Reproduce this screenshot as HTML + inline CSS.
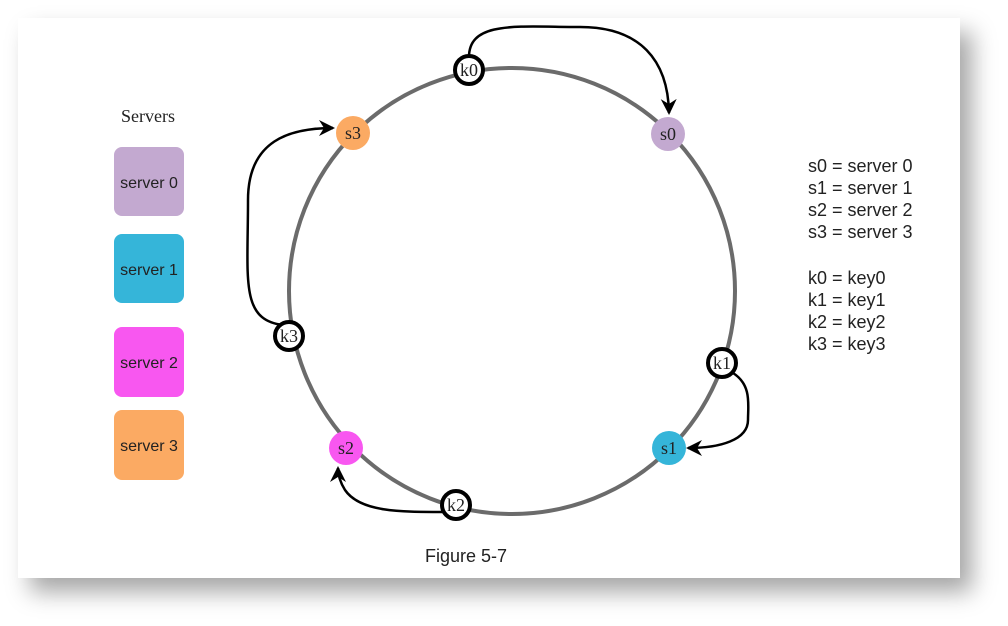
<!DOCTYPE html>
<html><head><meta charset="utf-8"><style>
body{margin:0;width:1008px;height:626px;background:#fff;overflow:hidden;position:relative;font-family:"Liberation Sans",sans-serif}
.card{position:absolute;left:18px;top:18px;width:942px;height:560px;background:#fff;box-shadow:12px 14px 22px rgba(0,0,0,0.35)}
svg{position:absolute;left:0;top:0}
</style></head><body>
<div class="card"></div>
<svg width="1008" height="626" viewBox="0 0 1008 626">
<defs>
<marker id="b" markerWidth="16" markerHeight="16" refX="14" refY="8" orient="auto" markerUnits="userSpaceOnUse"><path d="M0,0 L16,8 L0,16 L5,8 z" fill="#000"/></marker></defs>
<circle cx="512" cy="291" r="223" fill="none" stroke="#6b6b6b" stroke-width="4"/>
<g fill="none" stroke="#000" stroke-width="2.5">
<path d="M469,57 C469,20 520,27 580,27 C640,27 668,60 669,113" marker-end="url(#b)"/>
<path d="M283,325 C240,320 248,280 248,200 C248,140 290,128 333,128" marker-end="url(#b)"/>
<path d="M443,512 C400,512 360,512 345,490 C340,482 338,475 338,468" marker-end="url(#b)"/>
<path d="M733,373 C752,385 748,405 748,420 C748,440 720,448 688,448" marker-end="url(#b)"/>
</g>
<g font-family="Liberation Serif,serif" font-size="18" text-anchor="middle" fill="#222">
<circle cx="668" cy="134" r="17" fill="#c3a9d0"/><text x="668" y="140">s0</text>
<circle cx="353" cy="133" r="17" fill="#fbaa63"/><text x="353" y="139">s3</text>
<circle cx="346" cy="448" r="17" fill="#f857f0"/><text x="346" y="454">s2</text>
<circle cx="669" cy="448" r="17" fill="#35b5d9"/><text x="669" y="454">s1</text>
<g stroke="#000" stroke-width="4" fill="#fff">
<circle cx="469" cy="70" r="14"/><circle cx="289" cy="336" r="14"/><circle cx="456" cy="505" r="14"/><circle cx="722" cy="363" r="14"/></g>
<text x="469" y="76">k0</text><text x="289" y="342">k3</text><text x="456" y="511">k2</text><text x="722" y="369">k1</text>
<text x="148" y="122" font-size="18">Servers</text>
</g>
<g font-size="16" text-anchor="middle" fill="#222">
<rect x="114" y="147" width="70" height="69" rx="8" fill="#c3a9d0"/><text x="149" y="188">server 0</text>
<rect x="114" y="234" width="70" height="69" rx="8" fill="#35b5d9"/><text x="149" y="275">server 1</text>
<rect x="114" y="327" width="70" height="70" rx="8" fill="#f857f0"/><text x="149" y="368">server 2</text>
<rect x="114" y="410" width="70" height="70" rx="8" fill="#fbaa63"/><text x="149" y="451">server 3</text>
</g>
<g font-size="18" fill="#222">
<text x="808" y="172">s0 = server 0</text><text x="808" y="194">s1 = server 1</text><text x="808" y="216">s2 = server 2</text><text x="808" y="238">s3 = server 3</text>
<text x="808" y="284">k0 = key0</text><text x="808" y="306">k1 = key1</text><text x="808" y="328">k2 = key2</text><text x="808" y="350">k3 = key3</text>
<text x="466" y="562" text-anchor="middle" font-size="18">Figure 5-7</text>
</g>
</svg>
</body></html>
